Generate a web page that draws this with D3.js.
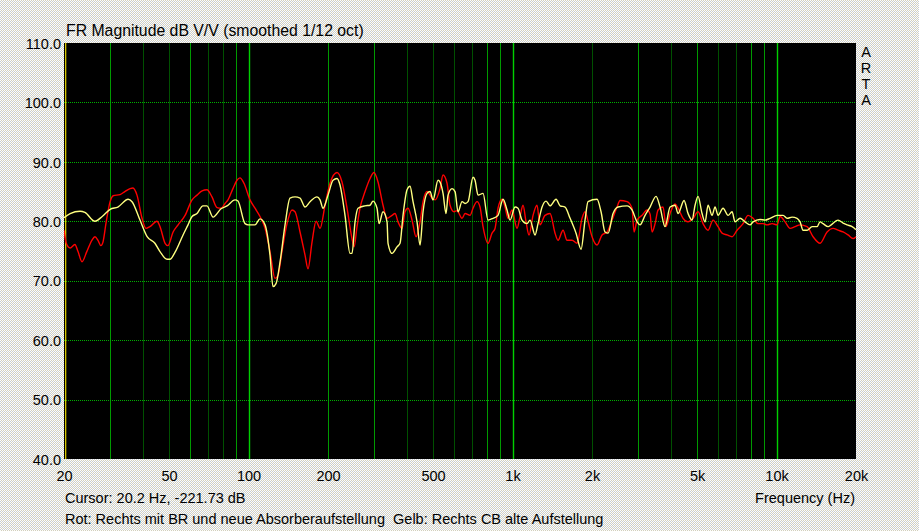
<!DOCTYPE html>
<html><head><meta charset="utf-8">
<script src="https://cdn.jsdelivr.net/npm/d3@7/dist/d3.min.js"></script>
<style>
html,body{margin:0;padding:0;background:#e4e4e0;}
svg{display:block;}
text{font-family:"Liberation Sans",Arial,sans-serif;font-size:14.5px;fill:#000;white-space:pre;}
</style></head>
<body>
<svg id="chart" width="919" height="531"></svg>
<script>
// ---------- data ----------
const title = "FR Magnitude dB V/V (smoothed 1/12 oct)";
const yTicks = [40, 50, 60, 70, 80, 90, 100, 110];
const xTickValues = [20, 50, 100, 200, 500, 1000, 2000, 5000, 10000, 20000];
const xTickLabels = ["20", "50", "100", "200", "500", "1k", "2k", "5k", "10k", "20k"];
const majorGrid = [100, 1000, 10000];
const minorGrid = [30, 40, 50, 60, 70, 80, 90, 200, 300, 400, 500, 600, 700, 800, 900,
                   2000, 3000, 4000, 5000, 6000, 7000, 8000, 9000];
const dottedMinor = [30, 60, 90, 200, 300, 800, 900, 3000, 5000, 8000, 9000];
const cursorHz = 20.2;
const cursorText = "Cursor: 20.2 Hz, -221.73 dB";
const xAxisTitle = "Frequency (Hz)";
const legendText = "Rot: Rechts mit BR und neue Absorberaufstellung  Gelb: Rechts CB alte Aufstellung";
const brand = ["A", "R", "T", "A"];

const redHz = [20, 20.4, 21.1, 22.0, 22.6, 23.4, 24.4, 25.5, 26.2, 26.9,
  27.6, 28.1, 28.9, 29.9, 30.7, 32.6, 34.0, 35.6, 36.5, 37.8,
  39.5, 40.9, 42.3, 45.0, 46.2, 48.3, 49.5, 51.8, 54.1, 57.5,
  61.1, 63.8, 66.7, 69.6, 72.7, 76.0, 78.7, 81.5, 83.6, 87.3,
  90.4, 92.8, 96.1, 101.3, 105.8, 110.5, 115.5, 120.6, 126.0, 129.3,
  133.9, 139.9, 146.1, 150.0, 156.7, 163.7, 168.0, 174.0, 180.2, 186.6,
  194.9, 203.6, 216.4, 226.0, 236.1, 246.6, 251.0, 257.6, 264.4, 276.3,
  288.6, 298.8, 309.4, 323.2, 334.7, 349.6, 358.9, 368.4, 381.5, 391.6,
  402.0, 416.2, 431.0, 446.3, 458.2, 474.4, 495.6, 508.7, 531.4, 545.5,
  564.8, 579.8, 600.4, 616.3, 643.8, 660.9, 690.3, 708.7, 733.8, 753.2,
  773.2, 807.7, 836.4, 858.5, 881.2, 912.5, 936.7, 961.6, 995.8, 1040,
  1068, 1096, 1125, 1155, 1196, 1238, 1271, 1328, 1387, 1449,
  1487, 1554, 1609, 1681, 1756, 1834, 1882, 1932, 2001, 2090,
  2183, 2281, 2382, 2488, 2554, 2715, 2836, 2886, 2963, 3095,
  3233, 3319, 3377, 3467, 3558, 3717, 3816, 3951, 4127, 4237,
  4426, 4623, 4829, 5044, 5269, 5504, 5749, 6005, 6219, 6496,
  6786, 7088, 7469, 7802, 8150, 8513, 8893, 9208, 9619, 10047,
  10313, 10774, 11254, 11756, 12280, 13053, 13755, 14619, 15541, 16377,
  17107, 17870, 18664, 19497, 20000];
const redDb = [78.5, 76.3, 75.5, 76.1, 74.9, 73.2, 74.9, 76.8, 77.4, 76.8,
  75.9, 76.5, 79.9, 83.3, 84.3, 84.5, 85.0, 85.5, 85.6, 84.4,
  80.5, 78.8, 79.1, 80.0, 79.1, 76.3, 75.9, 78.2, 79.4, 81.0,
  83.6, 84.4, 85.1, 85.3, 84.1, 82.3, 82.2, 83.0, 83.6, 85.5,
  86.9, 87.3, 86.4, 83.6, 82.2, 80.8, 78.8, 74.9, 70.4, 70.9,
  74.9, 79.6, 81.9, 81.6, 78.2, 74.3, 72.0, 76.5, 80.0, 78.8,
  82.7, 86.4, 88.2, 86.6, 82.2, 77.1, 75.7, 79.1, 82.2, 85.0,
  87.2, 88.2, 86.6, 82.7, 80.5, 81.0, 81.3, 79.9, 78.8, 81.6,
  82.2, 80.2, 77.4, 79.9, 83.3, 85.0, 83.9, 83.6, 85.5, 87.8,
  86.4, 82.7, 81.6, 81.8, 80.5, 81.3, 81.0, 82.2, 83.3, 82.4,
  79.1, 76.3, 78.0, 78.8, 82.2, 83.7, 82.4, 80.5, 81.9, 78.8,
  80.8, 82.7, 79.9, 77.7, 81.0, 82.7, 79.4, 81.0, 81.3, 78.0,
  76.8, 78.5, 76.8, 76.8, 76.3, 80.5, 81.6, 80.0, 77.4, 76.0,
  77.7, 78.2, 80.2, 82.4, 83.5, 83.3, 82.2, 78.2, 80.2, 81.0,
  81.9, 81.2, 78.2, 79.6, 81.9, 82.4, 79.1, 81.3, 82.9, 82.2,
  80.5, 79.9, 80.5, 81.6, 79.6, 78.5, 80.2, 79.1, 78.0, 77.7,
  77.4, 78.5, 79.6, 81.0, 80.5, 79.6, 79.6, 79.4, 79.6, 79.4,
  80.8, 79.9, 78.8, 79.1, 79.4, 79.1, 77.4, 76.3, 78.2, 78.8,
  78.5, 78.2, 77.7, 77.1, 77.4];

const yellowHz = [20, 21.1, 23.0, 24.0, 26.2, 27.9, 29.9, 32.0, 35.0, 36.2,
  38.8, 41.3, 44.2, 46.2, 49.1, 50.4, 52.7, 56.5, 59.0, 61.1,
  63.8, 67.2, 69.6, 73.4, 78.7, 82.9, 88.9, 91.2, 97.0, 99.6,
  105.8, 110.5, 115.5, 120.6, 123.8, 127.1, 131.7, 137.5, 143.6, 150.0,
  156.7, 163.7, 171.0, 181.7, 186.6, 191.5, 200, 209.0, 216.4, 222.1,
  232.0, 242.4, 246.6, 253.2, 259.9, 276.3, 288.6, 296.2, 306.7, 312.1,
  323.2, 334.7, 337.6, 349.6, 365.2, 374.9, 384.8, 398.5, 409.0, 419.9,
  434.8, 446.3, 458.2, 474.4, 487.0, 499.9, 522.2, 531.4, 545.5, 559.9,
  569.8, 590.0, 605.7, 621.7, 643.8, 660.9, 678.4, 708.7, 721.1, 740.2,
  773.2, 807.7, 843.7, 881.2, 920.5, 953.2, 978.5, 1022, 1049, 1086,
  1135, 1165, 1217, 1249, 1294, 1340, 1387, 1462, 1514, 1581,
  1652, 1740, 1818, 1882, 1932, 2090, 2164, 2241, 2301, 2403,
  2510, 2715, 2836, 2963, 3041, 3177, 3319, 3497, 3621, 3782,
  3951, 4127, 4237, 4464, 4623, 4787, 4914, 5044, 5223, 5362,
  5504, 5700, 5850, 6005, 6273, 6553, 6786, 6966, 7276, 7601,
  7939, 8150, 8663, 9049, 9452, 10047, 10588, 10963, 11452, 11963,
  12280, 12606, 13053, 13636, 14242, 14619, 15007, 15677, 17107, 17870,
  18502, 19327, 20000];
const yellowDb = [80.6, 81.3, 81.7, 81.5, 80.0, 80.8, 82.0, 82.4, 83.7, 83.3,
  80.2, 77.4, 76.3, 74.9, 73.6, 73.6, 74.8, 77.7, 79.4, 80.8,
  81.3, 82.6, 82.6, 80.7, 82.1, 82.6, 83.6, 83.4, 79.6, 79.4,
  79.4, 80.4, 79.4, 74.3, 69.0, 69.5, 73.2, 79.4, 83.9, 84.1,
  83.9, 82.4, 83.3, 84.1, 83.6, 82.2, 84.4, 86.9, 87.2, 86.1,
  81.0, 74.6, 74.6, 79.9, 82.2, 82.6, 82.7, 83.4, 82.2, 79.6,
  81.6, 79.9, 76.3, 74.6, 75.7, 76.3, 81.0, 85.3, 85.9, 83.3,
  79.9, 76.0, 81.6, 84.7, 85.0, 83.6, 86.9, 86.6, 84.7, 81.3,
  84.4, 85.5, 85.0, 81.6, 83.3, 83.0, 83.3, 87.4, 86.9, 84.4,
  84.7, 80.2, 80.5, 81.0, 83.7, 81.9, 80.2, 82.4, 82.2, 80.2,
  79.6, 80.2, 77.7, 79.6, 82.4, 83.4, 82.6, 83.7, 82.6, 82.4,
  80.5, 78.0, 75.3, 80.2, 83.3, 83.7, 81.6, 78.2, 78.0, 81.3,
  82.4, 82.6, 81.9, 79.9, 79.4, 81.0, 82.4, 84.2, 82.4, 79.1,
  82.4, 82.7, 81.3, 83.5, 81.3, 80.2, 82.7, 84.2, 81.3, 79.9,
  82.7, 81.0, 82.4, 81.0, 82.2, 81.0, 81.6, 79.9, 80.5, 79.9,
  79.4, 79.9, 80.3, 80.2, 80.5, 81.0, 81.0, 80.5, 80.7, 80.5,
  79.9, 78.5, 78.5, 79.1, 79.1, 79.9, 79.6, 79.1, 80.2, 79.7,
  79.4, 79.1, 78.6];

// ---------- drawing ----------
const W = 919, H = 531;
const plot = {left: 64, right: 856, top: 43, bottom: 459};
const svg = d3.select("#chart");

const defs = svg.append("defs");
const pat = defs.append("pattern").attr("id", "dither").attr("width", 2).attr("height", 2)
  .attr("patternUnits", "userSpaceOnUse");
pat.append("rect").attr("width", 2).attr("height", 2).attr("fill", "#fdfdfb");
pat.append("rect").attr("x", 1).attr("y", 0).attr("width", 1).attr("height", 1).attr("fill", "#d2cfbc");
pat.append("rect").attr("x", 0).attr("y", 1).attr("width", 1).attr("height", 1).attr("fill", "#c9cdd4");
defs.append("clipPath").attr("id", "clip").append("rect")
  .attr("x", plot.left).attr("y", plot.top)
  .attr("width", plot.right - plot.left).attr("height", plot.bottom - plot.top);

svg.append("rect").attr("width", W).attr("height", H).attr("fill", "url(#dither)");

const x = d3.scaleLog().domain([20, 20000]).range([plot.left, plot.right]);
const y = d3.scaleLinear().domain([40, 110]).range([plot.bottom, plot.top]);

svg.append("rect").attr("x", plot.left).attr("y", plot.top)
  .attr("width", plot.right - plot.left).attr("height", plot.bottom - plot.top)
  .attr("fill", "#000");

const grid = svg.append("g");
// minor vertical grid
grid.selectAll("rect.minor").data(minorGrid).join("rect")
  .attr("class", "minor")
  .attr("x", d => Math.round(x(d))).attr("width", 1)
  .attr("y", plot.top).attr("height", plot.bottom - plot.top)
  .attr("fill", d => dottedMinor.includes(d) ? "#009a00" : "#005000");
// major vertical grid
grid.selectAll("rect.major").data(majorGrid).join("rect")
  .attr("class", "major")
  .attr("x", d => Math.round(x(d)) - 0.2).attr("width", 1.4)
  .attr("y", plot.top).attr("height", plot.bottom - plot.top)
  .attr("fill", "#00d000");
// horizontal grid
grid.selectAll("line.h").data(yTicks.filter(d => d > 40 && d < 110)).join("line")
  .attr("class", "h").attr("shape-rendering", "crispEdges")
  .attr("x1", plot.left).attr("x2", plot.right)
  .attr("y1", d => Math.round(y(d)) + 0.5).attr("y2", d => Math.round(y(d)) + 0.5)
  .attr("stroke", "#00b000").attr("stroke-dasharray", "1,1").attr("stroke-width", 1);

// cursor line
svg.append("rect")
  .attr("x", Math.round(x(cursorHz))).attr("width", 1.3)
  .attr("y", plot.top).attr("height", plot.bottom - plot.top)
  .attr("fill", "#d8c800");

const line = d3.line().x(d => x(d[0])).y(d => y(d[1])).curve(d3.curveMonotoneX);
const redData = redHz.map((f, i) => [f, redDb[i]]);
const yellowData = yellowHz.map((f, i) => [f, yellowDb[i]]);
const curves = svg.append("g").attr("clip-path", "url(#clip)");
curves.append("path").datum(redData).attr("d", line)
  .attr("fill", "none").attr("stroke", "#ff0000").attr("stroke-width", 1.4).attr("stroke-linejoin", "round");
curves.append("path").datum(yellowData).attr("d", line)
  .attr("fill", "none").attr("stroke", "#ffff80").attr("stroke-width", 1.4).attr("stroke-linejoin", "round");

// y axis labels
const yAxis = d3.axisLeft(y).tickValues(yTicks).tickFormat(d3.format(".1f")).tickSize(0).tickPadding(3);
const yg = svg.append("g").attr("transform", `translate(${plot.left},0)`).call(yAxis);
yg.select(".domain").remove();
yg.selectAll("text").attr("font-size", 14).attr("font-family", "Liberation Sans, Arial, sans-serif")
  .attr("fill", "#000").attr("dy", "0.36em");

// x axis labels
const xAxis = d3.axisBottom(x).tickValues(xTickValues)
  .tickFormat((d, i) => xTickLabels[i]).tickSize(0).tickPadding(12);
const xg = svg.append("g").attr("transform", `translate(0,${plot.bottom})`).call(xAxis);
xg.select(".domain").remove();
xg.selectAll("text").attr("font-size", 14).attr("font-family", "Liberation Sans, Arial, sans-serif").attr("fill", "#000");

// texts
svg.append("text").attr("x", 66).attr("y", 36).style("font-size", "15.8px").text(title);
svg.append("text").attr("x", 65).attr("y", 503).text(cursorText);
svg.append("text").attr("x", 855).attr("y", 503).attr("text-anchor", "end").text(xAxisTitle);
svg.append("text").attr("x", 65).attr("y", 524).text(legendText);
svg.selectAll("text.brand").data(brand).join("text").attr("class", "brand")
  .attr("x", 866).attr("y", (d, i) => 57 + i * 16).attr("text-anchor", "middle").text(d => d);
</script>
</body></html>
